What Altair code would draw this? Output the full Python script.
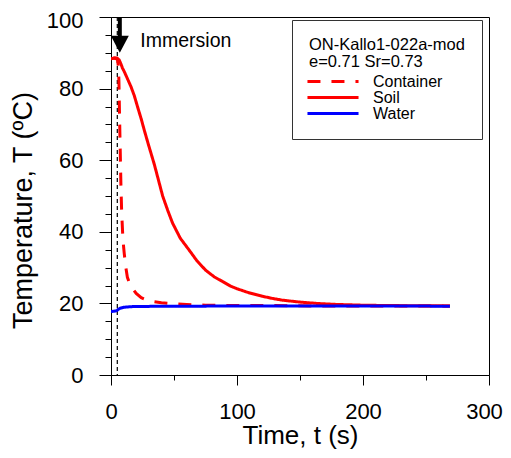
import altair as alt
import pandas as pd

FONT = "Liberation Sans"

# ---- data ----
container_t = [0, 2, 4, 5.2, 5.9, 6.3, 6.7, 7.1, 7.5, 7.9, 8.5, 9.5, 10.5, 11.5, 13, 15, 17, 20, 24,
               28, 34, 40, 50, 60, 75, 100, 130, 160, 200, 240, 269]
container_T = [88.3, 88.5, 88.4, 88.0, 86.0, 82.0, 74.0, 66.6, 59.6, 52.6, 45.2, 37.7, 34.0, 30.7,
               27.3, 25.3, 24.2, 22.8, 21.6, 21.0, 20.5, 20.2, 19.9, 19.7, 19.5, 19.4, 19.4, 19.3,
               19.3, 19.3, 19.3]

soil_t = [0, 3, 5, 6.5, 8, 9, 10.6, 13, 15.9, 18.5, 21, 24, 26.4, 30, 34.4, 38, 41, 45, 48.9, 55,
          62, 68, 75, 82, 88.6, 95, 100, 110, 120, 128, 136, 149, 163, 180, 200, 220, 240, 269]
soil_T = [88.3, 88.6, 88.5, 88.0, 86.8, 85.8, 84.7, 82.8, 80.5, 78.0, 75.0, 71.5, 68.4, 64.0, 58.8,
          54.0, 50.0, 46.0, 42.4, 38.2, 34.9, 32.0, 29.3, 27.4, 26.1, 24.8, 24.1, 22.9, 22.0, 21.4,
          20.9, 20.4, 20.0, 19.7, 19.5, 19.4, 19.35, 19.3]

water_t = [0, 2, 4, 5, 6, 7, 8, 10, 13, 17, 25, 40, 60, 80, 100, 130, 160, 200, 230, 269]
water_T = [17.7, 17.8, 17.9, 18.1, 18.4, 18.6, 18.7, 18.9, 19.0, 19.1, 19.15, 19.2, 19.2, 19.25,
           19.3, 19.3, 19.3, 19.3, 19.3, 19.2]

series_names = ["Container", "Soil", "Water"]
series_colors = ["#ff0000", "#ff0000", "#0000ff"]
series_dash = [[13, 11], [1, 0], [1, 0]]

x_major = [0, 100, 200, 300]
x_minor = [50, 150, 250]
y_major = [0, 20, 40, 60, 80, 100]
y_minor = [5, 10, 15, 25, 30, 35, 45, 50, 55, 65, 70, 75, 85, 90, 95]

immersion_t = [5]
arrow_t = [7]
arrow_top = [100]
arrow_bottom = [94.5]
arrow_head_T = [92.4]
label_t = [23.3]
label_T = [93.2]
label_text = ["Immersion"]

legend_title = ["ON-Kallo1-022a-mod", "e=0.71 Sr=0.73"]

# ---- tables ----
rows = []
for name, ts, vs in [("Container", container_t, container_T),
                     ("Soil", soil_t, soil_T),
                     ("Water", water_t, water_T)]:
    for i, (t, v) in enumerate(zip(ts, vs)):
        rows.append({"series": name, "t": t, "T": v, "order": i})
df = pd.DataFrame(rows)

df_vline = pd.DataFrame({"t": immersion_t})
df_arrow = pd.DataFrame({"t": arrow_t, "T": arrow_top, "T2": arrow_bottom})
df_head = pd.DataFrame({"t": arrow_t, "T": arrow_head_T})
df_label = pd.DataFrame({"t": label_t, "T": label_T, "text": label_text})

xs = alt.Scale(domain=[0, 300], nice=False, zero=False)
ys = alt.Scale(domain=[0, 100], nice=False, zero=False)

legend = alt.Legend(
    title=legend_title, orient="none", legendX=181, legendY=3,
    symbolType="M-4,0L4,0", symbolSize=163, symbolStrokeWidth=3, symbolOffset=16,
    labelFontSize=16, titleFontSize=16.5, titleFontWeight="normal",
    titleLineHeight=17, titlePadding=3, rowPadding=0, labelOffset=32,
    padding=17, strokeColor="#333333", fillColor="white",
    labelFont=FONT, titleFont=FONT, labelColor="black", titleColor="black",
)

x_major_axis = alt.Axis(orient="bottom", values=x_major, tickSize=10, labelFontSize=22,
                        labelPadding=16, labelFlush=False,
                        labelOffset={"condition": {"test": "datum.value === 300", "value": -5},
                                     "value": 0},
                        title="Time, t (s)", titleFontSize=26, titleBaseline="alphabetic",
                        titleY=68.5, grid=False)
y_major_axis = alt.Axis(orient="left", values=y_major, tickSize=12, labelFontSize=22,
                        labelPadding=16, labelFlush=False,
                        labelOffset={"condition": {"test": "datum.value === 100", "value": 3.5},
                                     "value": 0},
                        title="Temperature, T (ºC)",
                        titleFontSize=27, titleAngle=270, titleX=-88, titleY=193,
                        titleAlign="center", titleBaseline="middle", grid=False)
x_minor_axis = alt.Axis(orient="bottom", values=x_minor, tickSize=5, labels=False,
                        domain=False, grid=False, title="")
y_minor_axis = alt.Axis(orient="left", values=y_minor, tickSize=6, labels=False,
                        domain=False, grid=False, title="")

minor = alt.Chart(df).mark_point(opacity=0).encode(
    x=alt.X("t:Q", scale=xs, axis=x_minor_axis),
    y=alt.Y("T:Q", scale=ys, axis=y_minor_axis),
)

vline = alt.Chart(df_vline).mark_rule(color="black", strokeWidth=1.2, strokeDash=[4, 3]).encode(
    x=alt.X("t:Q", scale=xs, axis=None),
)

lines = alt.Chart(df).mark_line(strokeWidth=3, clip=True).encode(
    x=alt.X("t:Q", scale=xs, axis=x_major_axis),
    y=alt.Y("T:Q", scale=ys, axis=y_major_axis),
    color=alt.Color("series:N", scale=alt.Scale(domain=series_names, range=series_colors),
                    legend=legend),
    strokeDash=alt.StrokeDash("series:N", scale=alt.Scale(domain=series_names, range=series_dash),
                              legend=legend),
    order="order:Q",
)

shaft = alt.Chart(df_arrow).mark_rule(color="black", strokeWidth=4).encode(
    x=alt.X("t:Q", scale=xs, axis=None),
    y=alt.Y("T:Q", scale=ys, axis=None),
    y2="T2:Q",
)

head = alt.Chart(df_head).mark_point(
    shape="M-1,-0.95L1,-0.95L0,0.95Z", filled=True, color="black", opacity=1, size=324
).encode(
    x=alt.X("t:Q", scale=xs, axis=None),
    y=alt.Y("T:Q", scale=ys, axis=None),
)

label = alt.Chart(df_label).mark_text(
    align="left", baseline="middle", fontSize=19.5, font=FONT, color="black"
).encode(
    x=alt.X("t:Q", scale=xs, axis=None),
    y=alt.Y("T:Q", scale=ys, axis=None),
    text="text:N",
)

chart = alt.layer(minor, vline, lines, shaft, head, label).resolve_axis(
    x="independent", y="independent"
).properties(
    width=378, height=358,
    autosize=alt.AutoSizeParams(type="none"),
    padding={"left": 103, "top": 9, "right": 14, "bottom": 75},
).configure_view(
    stroke="black", strokeWidth=1
).configure_axis(
    domainColor="black", tickColor="black", labelColor="black", titleColor="black",
    labelFont=FONT, titleFont=FONT, titleFontWeight="normal", domainWidth=1, tickWidth=1,
)

chart.save("out.html", embed_options={"renderer": "svg", "actions": False})
